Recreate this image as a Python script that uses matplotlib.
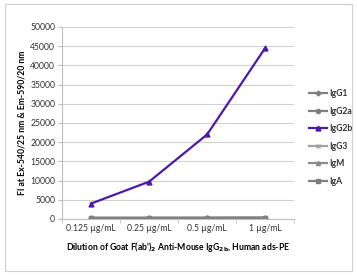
import matplotlib
matplotlib.use("Agg")
import matplotlib.pyplot as plt
from matplotlib.patches import Rectangle
import numpy as np

categories = ["0.125 µg/mL", "0.25 µg/mL", "0.5 µg/mL", "1 µg/mL"]
igg1 = [250, 250, 260, 280]
igg2a = [250, 250, 260, 280]
igg2b = [4000, 9700, 22000, 44500]
igg3 = [220, 230, 240, 260]
igm = [230, 240, 250, 270]
iga = [240, 250, 260, 290]
yticks = [0, 5000, 10000, 15000, 20000, 25000, 30000, 35000, 40000, 45000, 50000]

plt.rcParams['font.family'] = ['Lato', 'DejaVu Sans']

fig = plt.figure(figsize=(3.57, 2.75), dpi=100)
fig.patches.append(Rectangle((0.014, 0.015), 0.972, 0.972, transform=fig.transFigure,
                             fill=False, edgecolor='#d0d0d0', linewidth=0.8))
ax = fig.add_axes([0.174, 0.204, 0.650, 0.698])
x = np.arange(len(categories))

gray = '#7f7f7f'
series = [
    ("IgG1", igg1, gray, 'D', 2.5),
    ("IgG2a", igg2a, gray, 'o', 3),
    ("IgG2b", igg2b, '#4b1aa8', '^', 3.5),
    ("IgG3", igg3, '#a0a0a0', 'x', 3),
    ("IgM", igm, '#8c8c8c', '^', 3),
    ("IgA", iga, gray, 's', 3),
]
for name, vals, col, mk, ms in series:
    z = 3 if name == "IgG2b" else 2
    ax.plot(x, vals, color=col, marker=mk, markersize=ms, linewidth=1.6, label=name, zorder=z)

fs = 6.2
ax.set_xlim(-0.5, len(categories) - 0.5)
ax.set_ylim(0, 50000)
ax.set_yticks(yticks)
ax.set_yticklabels([str(v) for v in yticks], fontsize=fs, color='#333333')
ax.set_xticks(x)
ax.set_xticklabels(categories, fontsize=fs, color='#333333')
ax.set_xticks(np.arange(-0.5, len(categories)), minor=True)
ax.tick_params(axis='x', which='major', length=0, pad=4)
ax.tick_params(axis='x', which='minor', length=3, color='#bfbfbf')
ax.tick_params(axis='y', length=3, color='#bfbfbf', pad=2)
ax.grid(axis='y', color='#d0d0d0', linewidth=0.8)
ax.set_axisbelow(True)
for s in ['top', 'right']:
    ax.spines[s].set_visible(False)
for s in ['left', 'bottom']:
    ax.spines[s].set_color('#bfbfbf')
    ax.spines[s].set_linewidth(0.8)

ax.set_ylabel("FI at Ex-540/25 nm & Em-590/20 nm", fontsize=fs, fontweight='bold', labelpad=3)
ax.set_xlabel(r"Dilution of Goat F(ab')$_\mathbf{2}$ Anti-Mouse IgG$_\mathbf{2b}$, Human ads-PE",
              fontsize=fs, fontweight='bold', labelpad=5)

leg = fig.legend(loc='center left', bbox_to_anchor=(0.845, 0.5), frameon=False, fontsize=fs,
                 handlelength=2.0, labelspacing=1.0, handletextpad=0.3)
for t in leg.get_texts():
    t.set_fontweight('bold')
    t.set_color('#333333')

fig.savefig("out.png", dpi=100)
